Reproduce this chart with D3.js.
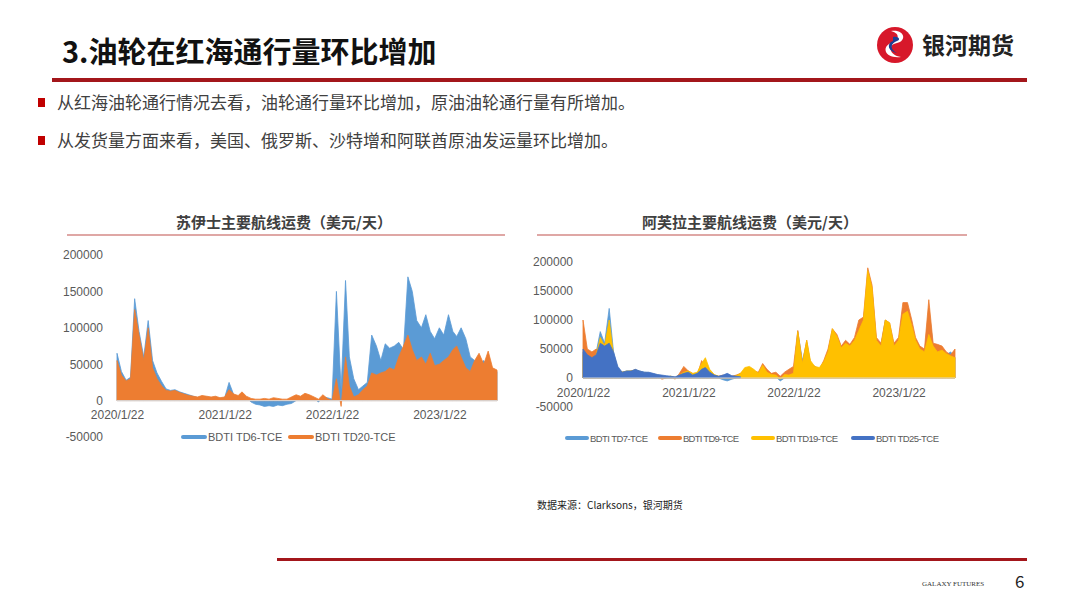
<!DOCTYPE html>
<html><head><meta charset="utf-8">
<script src="https://cdn.jsdelivr.net/npm/d3@7"></script>
<style>body{margin:0;background:#fff}svg{display:block;font-family:"Noto Sans CJK SC","Noto Sans",sans-serif}</style>
</head><body><svg id="c" width="1080" height="608"></svg>
<script>
// semi-monthly points starting 2020/1/22
const startDate = "2020-01-22";
const yTicks = [-50000, 0, 50000, 100000, 150000, 200000];
const xTickLabels = ["2020/1/22","2021/1/22","2022/1/22","2023/1/22"];
const leftNames = ["BDTI TD6-TCE","BDTI TD20-TCE"];
const td6 = [65000,40000,28000,32000,140000,95000,60000,110000,55000,38000,26000,16000,14000,15000,12000,10000,8000,6000,4000,6000,5000,4000,5000,3000,
4000,25000,8000,5000,10000,4000,-2000,-5000,-6000,-8000,-7000,-8000,-6000,-7000,-5000,-4000,0,2000,8000,6000,3000,-2000,5000,4000,
2000,150000,15000,165000,60000,30000,15000,20000,25000,90000,75000,55000,78000,72000,75000,80000,70000,170000,150000,110000,100000,118000,95000,85000,
100000,90000,118000,95000,88000,100000,85000,60000,55000,50000,55000,45000,42000,40000];
const td20 = [55000,35000,27000,30000,125000,90000,55000,100000,45000,30000,20000,14000,13000,14000,11000,9000,7000,6000,5000,7000,6000,5000,6000,4000,
5000,15000,9000,7000,12000,6000,3000,2000,2000,3000,2000,4000,3000,2000,2000,5000,8000,6000,10000,8000,5000,2000,8000,3000,
0,30000,-8000,60000,20000,5000,8000,15000,20000,38000,35000,38000,40000,45000,42000,60000,75000,90000,70000,55000,60000,50000,65000,48000,
50000,55000,60000,70000,75000,60000,45000,40000,55000,65000,50000,68000,45000,42000];
const rightNames = ["BDTI TD7-TCE","BDTI TD9-TCE","BDTI TD19-TCE","BDTI TD25-TCE"];
const td7 = [45000,40000,35000,45000,80000,60000,120000,45000,15000,10000,12000,12000,14000,12000,10000,9000,7000,5000,3000,2000,2000,0,3000,8000,
10000,5000,8000,20000,15000,8000,3000,0,-3000,-5000,-2000,0,5000,15000,18000,12000,8000,15000,5000,3000,2000,-5000,0,2000,
5000,80000,30000,60000,25000,20000,15000,25000,45000,80000,70000,50000,60000,55000,65000,75000,100000,160000,150000,60000,55000,100000,90000,50000,
60000,120000,110000,90000,60000,50000,40000,120000,55000,40000,50000,40000,45000,35000];
const td9 = [100000,50000,45000,50000,40000,60000,50000,40000,15000,10000,10000,12000,14000,10000,8000,6000,5000,4000,-2000,0,3000,-2000,8000,20000,
12000,8000,5000,30000,20000,10000,5000,3000,5000,2000,3000,5000,8000,15000,18000,12000,10000,25000,15000,8000,10000,3000,10000,15000,
20000,82000,25000,65000,25000,20000,15000,30000,50000,85000,75000,55000,65000,58000,70000,100000,105000,190000,160000,70000,60000,100000,95000,60000,
70000,130000,130000,100000,70000,55000,50000,135000,60000,58000,55000,45000,40000,50000];
const td19 = [40000,38000,33000,40000,70000,55000,100000,40000,15000,10000,12000,12000,14000,11000,9000,8000,6000,5000,3000,2000,3000,1000,5000,10000,
12000,8000,10000,25000,35000,15000,6000,3000,2000,3000,2000,4000,8000,18000,20000,15000,8000,22000,10000,6000,5000,-2000,6000,5000,
8000,80000,25000,65000,30000,20000,18000,28000,45000,85000,72000,52000,60000,55000,65000,82000,100000,185000,155000,65000,55000,100000,95000,55000,
65000,110000,115000,90000,65000,50000,45000,75000,55000,45000,48000,42000,38000,35000];
const td25 = [50000,40000,35000,40000,60000,55000,60000,45000,20000,10000,12000,12000,15000,12000,10000,10000,8000,6000,5000,4000,3000,2000,5000,8000,
10000,5000,8000,15000,18000,10000,5000,3000,5000,8000,4000,3000,2000];

const svg = d3.select("#c");
const p = d3.timeParse("%Y-%m-%d"), tp = d3.timeParse("%Y/%m/%d");
const t0 = p(startDate);
const dateAt = i => d3.timeDay.offset(d3.timeMonth.offset(t0, Math.floor(i/2)), (i%2)*15);
const dark = "#404040";

// header
svg.append("text").attr("x",62).attr("y",63).attr("font-size",29).attr("font-weight","bold").attr("fill","#111").text("3.油轮在红海通行量环比增加");
svg.append("rect").attr("x",52).attr("y",78).attr("width",975).attr("height",4).attr("fill","#a3161b");
// logo
const lg = svg.append("g").attr("transform","translate(895,45)");
lg.append("circle").attr("r",18).attr("fill","#d7182a");
lg.append("path").attr("d","M-4,-14 C10,-16 12,-4 2,-2 C-8,0 -6,10 6,12 C-10,14 -14,2 -4,-2 C6,-6 4,-12 -4,-14Z").attr("fill","#fff");
lg.append("path").attr("d","M-2,-8 C4,-9 6,-5 2,-4 C-4,-2 -6,4 2,8 C-8,6 -8,-2 -2,-4Z").attr("fill","#1b3f93");
svg.append("text").attr("x",922).attr("y",54).attr("font-size",23).attr("font-weight","bold").attr("fill","#222").text("银河期货");

const bullets = ["从红海油轮通行情况去看，油轮通行量环比增加，原油油轮通行量有所增加。","从发货量方面来看，美国、俄罗斯、沙特增和阿联酋原油发运量环比增加。"];
bullets.forEach((b,i)=>{
  svg.append("rect").attr("x",38).attr("y",98+i*38).attr("width",7).attr("height",9).attr("fill","#c00000");
  svg.append("text").attr("x",57).attr("y",109+i*38).attr("font-size",17).attr("fill","#404040").text(b);
});

function chart(o){
  svg.append("text").attr("x",o.tx).attr("y",228).attr("text-anchor","middle").attr("font-size",15).attr("font-weight","bold").attr("fill",dark).text(o.title);
  svg.append("line").attr("x1",o.lx1).attr("x2",o.lx2).attr("y1",235).attr("y2",235).attr("stroke","#c0504d").attr("stroke-width",1.2);
  const x = d3.scaleTime().domain([t0, dateAt(85)]).range([o.x0,o.x1]);
  const y = d3.scaleLinear().domain([-50000,200000]).range([o.yb,o.yt]);
  const g = svg.append("g");
  o.series.forEach((s,k)=>{
    const pts = s.map((v,i)=>[dateAt(i),v]);
    g.append("path").datum(pts).attr("fill",o.colors[k]).attr("stroke",o.colors[k]).attr("stroke-width",0.8)
      .attr("d",d3.area().x(d=>x(d[0])).y0(y(0)).y1(d=>y(d[1])).curve(d3.curveLinear));
  });
  const ya = svg.append("g").attr("transform",`translate(${o.yl},0)`).call(d3.axisLeft(y).tickValues(yTicks).tickSize(0).tickFormat(d=>String(d)));
  ya.select(".domain").remove();
  ya.selectAll("text").attr("font-size",12).attr("fill","#595959").attr("font-family","Liberation Sans, Arial");
  svg.append("line").attr("x1",o.x0).attr("x2",o.x1).attr("y1",y(0)).attr("y2",y(0)).attr("stroke","#d9d9d9");
  const xa = svg.append("g").attr("transform",`translate(0,${y(0)})`).call(d3.axisBottom(x).tickValues(xTickLabels.map(tp)).tickSize(0).tickFormat(d3.timeFormat("%Y/%-m/%d")));
  xa.select(".domain").remove();
  xa.selectAll("text").attr("font-size",12).attr("fill","#595959").attr("dy","1.3em").attr("font-family","Liberation Sans, Arial");
  o.names.forEach((n,k)=>{
    const lx=o.legX[k];
    svg.append("line").attr("x1",lx).attr("x2",lx+o.sw).attr("y1",o.legY).attr("y2",o.legY).attr("stroke",o.colors[k]).attr("stroke-width",4).attr("stroke-linecap","round");
    svg.append("text").attr("x",lx+o.sw+3).attr("y",o.legY+4).attr("font-size",o.lfs).attr("fill","#595959").attr("font-family","Liberation Sans, Arial").attr("textLength",o.tl?o.tl[k]:null).text(n);
  });
}
chart({title:"苏伊士主要航线运费（美元/天）",tx:284,lx1:67,lx2:505,x0:117,x1:497,yb:437,yt:255,yl:106,sw:22,lfs:11,
  series:[td6,td20],colors:["#5b9bd5","#ed7d31"],names:leftNames,legX:[183,290],legY:437});
chart({title:"阿芙拉主要航线运费（美元/天）",tx:750,lx1:537,lx2:967,x0:583,x1:955,yb:407,yt:262,yl:576,sw:20,lfs:9.5,tl:[58,56,62,63],
  series:[td7,td9,td19,td25],colors:["#5b9bd5","#ed7d31","#ffc000","#4472c4"],names:rightNames,legX:[567,660,753,853],legY:438});

svg.append("text").attr("x",537).attr("y",509).attr("font-size",10).attr("fill","#222").text("数据来源：Clarksons，银河期货");
svg.append("rect").attr("x",277).attr("y",558).attr("width",750).attr("height",3).attr("fill","#a3161b");
svg.append("text").attr("x",922).attr("y",586).attr("font-size",7).attr("fill","#333").attr("font-family","Liberation Serif").text("GALAXY FUTURES");
svg.append("text").attr("x",1015).attr("y",588).attr("font-size",17).attr("fill","#222").text("6");
</script></body></html>
